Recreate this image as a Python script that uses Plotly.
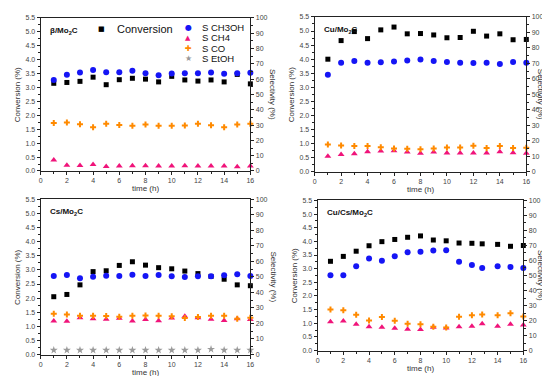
import plotly.graph_objects as go

# ---------------- data ----------------
t = list(range(1, 17))
t_cucs = [1, 2, 3, 4, 5, 6, 7, 8, 9, 10, 11, 12, 12.8, 14, 15, 16]

panel_titles = ["β/Mo<sub>2</sub>C", "Cu/Mo<sub>2</sub>C", "Cs/Mo<sub>2</sub>C", "Cu/Cs/Mo<sub>2</sub>C"]
series_names = ["Conversion", "S CH3OH", "S CH4", "S CO", "S EtOH"]

# Panel 1: beta/Mo2C
b_conv = [3.15, 3.18, 3.22, 3.37, 3.10, 3.28, 3.33, 3.30, 3.20, 3.40, 3.27, 3.23, 3.27, 3.20, 3.47, 3.13]
b_ch3oh = [59.4, 62.8, 64.3, 66.0, 64.5, 64.5, 65.4, 63.9, 62.6, 63.7, 63.9, 63.9, 64.3, 63.5, 63.9, 64.1]
b_ch4 = [7.1, 3.8, 3.6, 4.3, 3.0, 3.3, 3.4, 3.5, 3.3, 3.3, 3.4, 3.3, 3.3, 3.3, 2.8, 3.3]
b_co = [31.4, 31.6, 30.6, 28.6, 30.8, 30.1, 29.5, 30.3, 29.5, 29.5, 29.7, 30.8, 29.9, 28.6, 30.3, 30.8]

# Panel 2: Cu/Mo2C
cu_conv = [4.00, 4.66, 4.98, 4.73, 5.04, 5.14, 4.90, 4.91, 4.86, 4.76, 4.77, 4.99, 4.82, 4.90, 4.69, 4.70]
cu_ch3oh = [62.7, 70.5, 71.5, 70.5, 70.7, 71.3, 71.9, 72.6, 71.5, 70.9, 70.5, 70.3, 70.5, 69.6, 70.9, 70.5]
cu_ch4 = [10.1, 11.2, 11.8, 13.1, 13.5, 13.7, 12.9, 12.0, 12.9, 12.2, 12.2, 12.2, 12.2, 13.1, 12.4, 12.0]
cu_co = [17.7, 17.1, 16.7, 16.7, 16.0, 15.2, 15.0, 14.6, 15.2, 15.8, 15.8, 16.9, 15.4, 16.7, 15.4, 15.6]

# Panel 3: Cs/Mo2C
cs_conv = [2.05, 2.13, 2.47, 2.94, 2.97, 3.16, 3.29, 3.17, 3.08, 3.04, 2.96, 2.87, 2.77, 2.67, 2.47, 2.44]
cs_ch3oh = [50.6, 51.3, 49.2, 50.2, 50.8, 50.6, 51.5, 50.6, 51.3, 50.4, 50.0, 50.4, 50.4, 51.1, 51.7, 50.6]
cs_ch4 = [21.6, 21.4, 23.7, 23.1, 22.7, 23.3, 21.6, 22.5, 21.8, 23.5, 24.6, 23.7, 22.7, 22.0, 23.1, 22.5]
cs_co = [26.3, 25.8, 25.0, 25.0, 24.8, 24.4, 25.0, 25.2, 25.0, 24.6, 23.5, 24.2, 25.0, 25.0, 23.1, 23.7]
cs_etoh = [2.8, 2.8, 2.8, 2.8, 2.8, 2.8, 2.8, 2.8, 2.8, 2.8, 2.8, 2.8, 3.4, 2.8, 2.8, 2.8]

# Panel 4: Cu/Cs/Mo2C
cc_conv = [3.27, 3.45, 3.64, 3.84, 3.99, 4.07, 4.15, 4.20, 4.05, 4.02, 3.94, 3.93, 3.91, 3.89, 3.82, 3.85]
cc_ch3oh = [50.2, 50.2, 56.1, 61.4, 59.8, 62.9, 65.5, 65.9, 66.6, 66.8, 59.2, 57.0, 55.0, 56.1, 55.7, 55.0]
cc_ch4 = [19.2, 19.7, 17.5, 15.9, 15.5, 14.8, 14.2, 14.0, 15.5, 15.1, 15.9, 16.2, 17.9, 16.2, 17.5, 17.0]
cc_co = [27.3, 26.9, 23.8, 20.1, 22.3, 19.9, 17.9, 17.5, 15.9, 15.3, 22.5, 23.6, 24.0, 23.6, 24.9, 22.7]

panels = [
    (t, b_conv, b_ch3oh, b_ch4, b_co, None),
    (t, cu_conv, cu_ch3oh, cu_ch4, cu_co, None),
    (t, cs_conv, cs_ch3oh, cs_ch4, cs_co, cs_etoh),
    (t_cucs, cc_conv, cc_ch3oh, cc_ch4, cc_co, None),
]

# ---------------- styling ----------------
W, H = 550, 376
# plot areas in pixels: (x0, x1, ytop, ybottom)
areas = [(31, 243, 6, 162), (308, 522, 5, 163), (31, 243, 191, 349), (311, 519, 192, 345)]
right_title_px = [272, 543, 272, 543]   # right edge of rotated title

C_CONV = "#000000"
C_MEOH = "#1515f5"
C_CH4 = "#f0147a"
C_CO = "#ff8a00"
C_ETOH = "#9a9a9a"
FONT = "Arial, Liberation Sans, sans-serif"
TICKC = "#444444"

fig = go.Figure()
layout = dict(
    width=W, height=H, margin=dict(l=0, r=0, t=0, b=0),
    paper_bgcolor="white", plot_bgcolor="white",
    font=dict(family=FONT, size=7, color=TICKC),
    showlegend=False,
)
annotations = []

for i, (tt, conv, meoh, ch4, co, etoh) in enumerate(panels):
    x0, x1, yt, yb = areas[i]
    xd = [x0 / W, x1 / W]
    yd = [1 - yb / H, 1 - yt / H]
    xa = f"xaxis{i+1}" if i else "xaxis"
    xn = f"x{i+1}" if i else "x"
    yl_idx, yr_idx = 2 * i + 1, 2 * i + 2
    yla = f"yaxis{yl_idx}" if yl_idx > 1 else "yaxis"
    yln = f"y{yl_idx}" if yl_idx > 1 else "y"
    yra = f"yaxis{yr_idx}"
    yrn = f"y{yr_idx}"

    layout[xa] = dict(domain=xd, anchor=yln, range=[0, 16], dtick=2, tick0=0,
                      showline=True, linecolor="#222", linewidth=1, mirror=True,
                      ticks="outside", ticklen=3, tickcolor="#222",
                      minor=dict(ticks="outside", ticklen=2, dtick=1, tickcolor="#222"),
                      showgrid=False, zeroline=False,
                      tickfont=dict(size=7, color=TICKC))
    layout[yla] = dict(domain=yd, anchor=xn, range=[0, 5.5], dtick=0.5, tick0=0,
                       tickformat=".1f", showline=True, linecolor="#222", linewidth=1,
                       ticks="outside", ticklen=3, tickcolor="#222",
                       minor=dict(ticks="outside", ticklen=2, dtick=0.25, tickcolor="#222"),
                       showgrid=False, zeroline=False,
                       tickfont=dict(size=7, color=TICKC))
    layout[yra] = dict(domain=yd, anchor=xn, overlaying=yln, side="right",
                       range=[0, 100], dtick=10, tick0=0,
                       showline=True, linecolor="#222", linewidth=1,
                       ticks="outside", ticklen=3, tickcolor="#222",
                       minor=dict(ticks="outside", ticklen=2, dtick=5, tickcolor="#222"),
                       showgrid=False, zeroline=False,
                       tickfont=dict(size=7, color=TICKC))

    fig.add_trace(go.Scatter(x=tt, y=conv, mode="markers", name=series_names[0],
                             marker=dict(symbol="square", size=5, color=C_CONV),
                             xaxis=xn, yaxis=yln, cliponaxis=False))
    fig.add_trace(go.Scatter(x=tt, y=meoh, mode="markers", name=series_names[1],
                             marker=dict(symbol="circle", size=6, color=C_MEOH),
                             xaxis=xn, yaxis=yrn, cliponaxis=False))
    fig.add_trace(go.Scatter(x=tt, y=ch4, mode="markers", name=series_names[2],
                             marker=dict(symbol="triangle-up", size=6, color=C_CH4),
                             xaxis=xn, yaxis=yrn, cliponaxis=False))
    fig.add_trace(go.Scatter(x=tt, y=co, mode="markers", name=series_names[3],
                             marker=dict(symbol="cross", size=5, color=C_CO),
                             xaxis=xn, yaxis=yrn, cliponaxis=False))
    if etoh is not None:
        fig.add_trace(go.Scatter(x=tt, y=etoh, mode="markers", name=series_names[4],
                                 marker=dict(symbol="star", size=6, color=C_ETOH),
                                 xaxis=xn, yaxis=yrn, cliponaxis=False))

    # panel label
    annotations.append(dict(text=f"<b>{panel_titles[i]}</b>", xref="paper", yref="paper",
                            x=(x0 + 7) / W, y=1 - (yt + 6) / H, xanchor="left", yanchor="top",
                            showarrow=False, font=dict(size=8, color="#111", family=FONT)))
    # axis titles
    annotations.append(dict(text="Conversion (%)", xref="paper", yref="paper",
                            x=(x0 - 23) / W, y=1 - ((yt + yb) / 2) / H, textangle=-90,
                            xanchor="center", yanchor="middle", showarrow=False,
                            font=dict(size=8, color="#333", family=FONT)))
    annotations.append(dict(text="Selectivity (%)", xref="paper", yref="paper",
                            x=right_title_px[i] / W, y=1 - ((yt + yb) / 2) / H, textangle=90,
                            xanchor="right", yanchor="middle", showarrow=False,
                            font=dict(size=8, color="#333", family=FONT)))
    annotations.append(dict(text="time (h)", xref="paper", yref="paper",
                            x=((x0 + x1) / 2) / W, y=1 - (yb + 18) / H,
                            xanchor="center", yanchor="middle", showarrow=False,
                            font=dict(size=8, color="#333", family=FONT)))

# ---- legend (panel 1), drawn as text keys ----
leg_sym = ["■", "●", "▲", "✚", "★"]
leg_col = [C_CONV, C_MEOH, C_CH4, C_CO, C_ETOH]
annotations.append(dict(text=leg_sym[0], xref="paper", yref="paper", x=93 / W, y=1 - 17 / H,
                        xanchor="center", yanchor="middle", showarrow=False,
                        font=dict(size=7, color=leg_col[0], family="DejaVu Sans")))
annotations.append(dict(text=series_names[0], xref="paper", yref="paper", x=106 / W, y=1 - 17 / H,
                        xanchor="left", yanchor="middle", showarrow=False,
                        font=dict(size=11, color="#111", family=FONT)))
rows_y = [15.7, 26.0, 36.7, 47.5]
sym_sizes = [8, 7, 8, 8]
for k in range(4):
    annotations.append(dict(text=leg_sym[k + 1], xref="paper", yref="paper", x=180 / W, y=1 - rows_y[k] / H,
                            xanchor="center", yanchor="middle", showarrow=False,
                            font=dict(size=sym_sizes[k], color=leg_col[k + 1], family="DejaVu Sans")))
    annotations.append(dict(text=series_names[k + 1], xref="paper", yref="paper", x=192 / W, y=1 - rows_y[k] / H,
                            xanchor="left", yanchor="middle", showarrow=False,
                            font=dict(size=9.5, color="#111", family=FONT)))

layout["annotations"] = annotations
fig.update_layout(**layout)
fig.write_html("out.html")
